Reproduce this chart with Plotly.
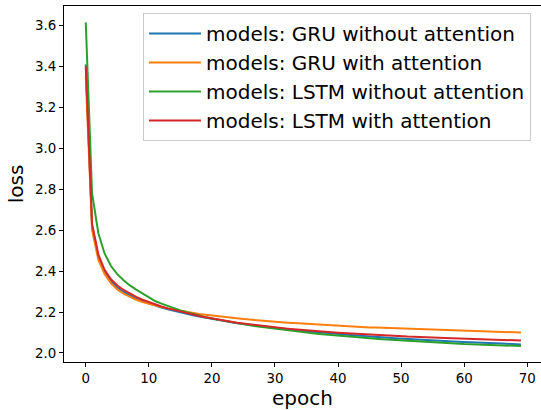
import plotly.graph_objects as go

epochs = list(range(70))

gru_no_attn = [3.41, 2.62, 2.47, 2.395, 2.35, 2.32, 2.298, 2.28, 2.265, 2.252,
               2.241, 2.231, 2.222, 2.213, 2.205, 2.198, 2.191, 2.184, 2.178, 2.172,
               2.166, 2.16, 2.155, 2.15, 2.145, 2.141, 2.137, 2.133, 2.129, 2.125,
               2.122, 2.118, 2.115, 2.112, 2.109, 2.106, 2.103, 2.1, 2.097, 2.095,
               2.092, 2.09, 2.087, 2.085, 2.083, 2.08, 2.078, 2.076, 2.074, 2.072,
               2.07, 2.068, 2.066, 2.065, 2.063, 2.061, 2.06, 2.058, 2.057, 2.055,
               2.054, 2.052, 2.051, 2.05, 2.048, 2.047, 2.046, 2.045, 2.043, 2.042]

gru_attn = [3.35, 2.60, 2.455, 2.385, 2.34, 2.31, 2.29, 2.273, 2.26, 2.249,
            2.24, 2.232, 2.225, 2.218, 2.212, 2.206, 2.201, 2.196, 2.191, 2.187,
            2.183, 2.179, 2.176, 2.172, 2.169, 2.166, 2.163, 2.16, 2.158, 2.155,
            2.153, 2.15, 2.148, 2.146, 2.144, 2.142, 2.14, 2.138, 2.136, 2.134,
            2.133, 2.131, 2.13, 2.128, 2.127, 2.125, 2.124, 2.123, 2.121, 2.12,
            2.119, 2.118, 2.117, 2.116, 2.115, 2.114, 2.113, 2.112, 2.111, 2.11,
            2.109, 2.108, 2.107, 2.106, 2.105, 2.104, 2.103, 2.102, 2.101, 2.1]

lstm_no_attn = [3.615, 2.78, 2.585, 2.485, 2.425, 2.385, 2.355, 2.33, 2.31, 2.29,
                2.27, 2.254, 2.241, 2.229, 2.218, 2.208, 2.199, 2.19, 2.182, 2.175,
                2.168, 2.162, 2.156, 2.15, 2.145, 2.14, 2.135, 2.13, 2.126, 2.122,
                2.118, 2.114, 2.11, 2.106, 2.102, 2.099, 2.096, 2.093, 2.09, 2.087,
                2.084, 2.081, 2.079, 2.076, 2.074, 2.071, 2.069, 2.067, 2.065, 2.063,
                2.061, 2.059, 2.057, 2.055, 2.054, 2.052, 2.05, 2.049, 2.047, 2.046,
                2.044, 2.043, 2.042, 2.04, 2.039, 2.038, 2.037, 2.036, 2.035, 2.034]

lstm_attn = [3.40, 2.63, 2.48, 2.405, 2.36, 2.33, 2.308, 2.29, 2.274, 2.26,
             2.248, 2.237, 2.227, 2.218, 2.21, 2.202, 2.195, 2.188, 2.181, 2.175,
             2.169, 2.163, 2.158, 2.153, 2.148, 2.144, 2.14, 2.136, 2.132, 2.128,
             2.125, 2.122, 2.119, 2.116, 2.113, 2.11, 2.108, 2.105, 2.103, 2.101,
             2.099, 2.097, 2.095, 2.093, 2.091, 2.089, 2.087, 2.086, 2.084, 2.083,
             2.081, 2.08, 2.079, 2.077, 2.076, 2.075, 2.074, 2.073, 2.072, 2.071,
             2.07, 2.069, 2.068, 2.067, 2.066, 2.065, 2.064, 2.063, 2.062, 2.061]

names = ["models: GRU without attention", "models: GRU with attention",
         "models: LSTM without attention", "models: LSTM with attention"]
series = [gru_no_attn, gru_attn, lstm_no_attn, lstm_attn]
colors = ["#1f77b4", "#ff7f0e", "#2ca02c", "#d62728"]

x_ticks = [0, 10, 20, 30, 40, 50, 60, 70]
y_ticks = [2.0, 2.2, 2.4, 2.6, 2.8, 3.0, 3.2, 3.4, 3.6]

fig = go.Figure()
for n, s, c in zip(names, series, colors):
    fig.add_trace(go.Scatter(x=epochs, y=s, mode="lines", name=n,
                             line=dict(color=c, width=2)))

font_family = "DejaVu Sans"
fig.update_layout(
    width=541, height=410,
    margin=dict(l=63.5, r=0, t=5.5, b=48),
    paper_bgcolor="white", plot_bgcolor="white",
    font=dict(family=font_family, color="black"),
    legend=dict(
        x=0.979, y=0.98, xanchor="right", yanchor="top",
        font=dict(size=20, family=font_family, color="black"),
        bgcolor="rgba(255,255,255,0.8)", bordercolor="#cccccc", borderwidth=1,
        itemwidth=52,
    ),
    showlegend=True,
)
fig.update_xaxes(
    range=[-3.45, 72.18], tickvals=x_ticks, ticktext=[str(v) for v in x_ticks],
    showgrid=False, zeroline=False, showline=True, linecolor="black", linewidth=1,
    mirror=True, ticks="outside", ticklen=4, tickcolor="black",
    tickfont=dict(size=13.4, family=font_family, color="black"),
    title=dict(text="epoch", font=dict(size=20, family=font_family, color="black"), standoff=6),
)
fig.update_yaxes(
    range=[1.956, 3.695], tickvals=y_ticks, ticktext=["%.1f" % v for v in y_ticks],
    showgrid=False, zeroline=False, showline=True, linecolor="black", linewidth=1,
    ticks="outside", ticklen=4, tickcolor="black",
    tickfont=dict(size=13.4, family=font_family, color="black"),
    title=dict(text="loss", font=dict(size=20, family=font_family, color="black"), standoff=6),
)

fig.write_html("out.html")
